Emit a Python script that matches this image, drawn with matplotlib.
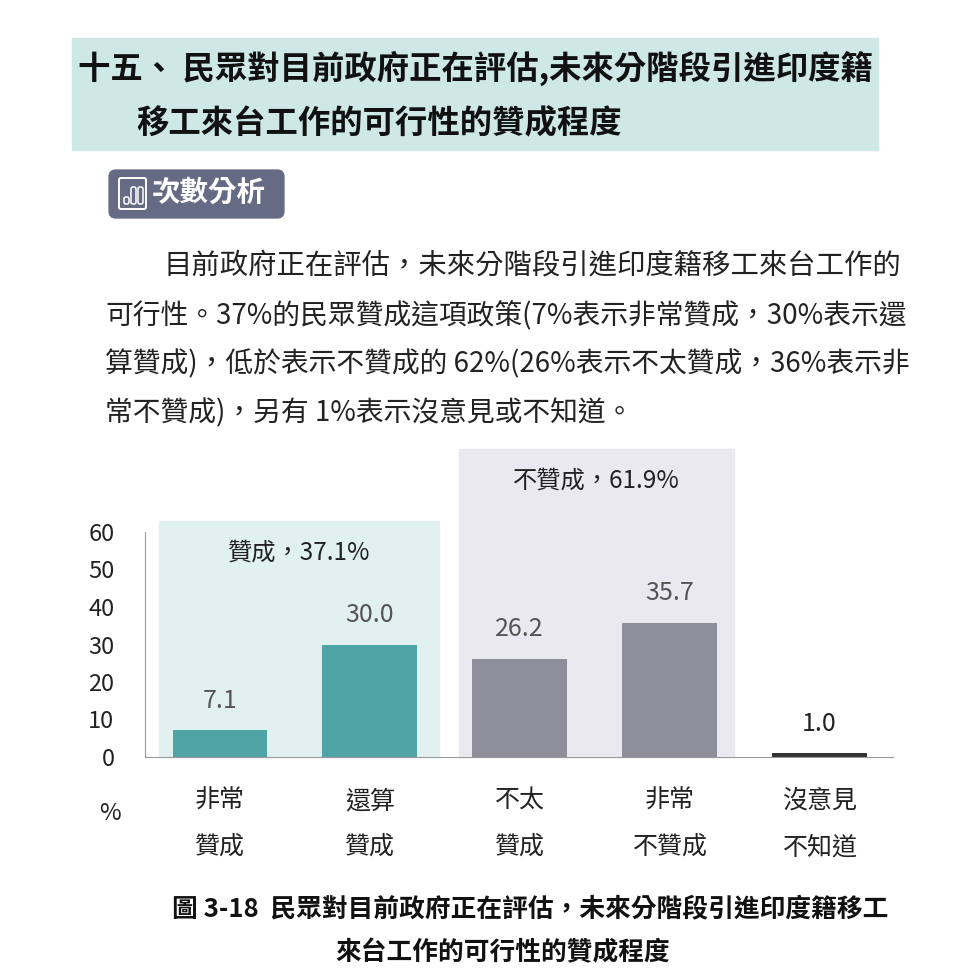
import matplotlib
matplotlib.use('Agg')
import matplotlib.pyplot as plt
from matplotlib.patches import Rectangle, FancyBboxPatch

plt.rcParams['font.family'] = ['Noto Sans CJK TC', 'DejaVu Sans']

# data
categories = [['非常', '贊成'], ['還算', '贊成'], ['不太', '贊成'], ['非常', '不贊成'], ['沒意見', '不知道']]
values = [7.1, 30.0, 26.2, 35.7, 1.0]
value_labels = ['7.1', '30.0', '26.2', '35.7', '1.0']
yticks = [0, 10, 20, 30, 40, 50, 60]
group_agree = '贊成，37.1%'
group_disagree = '不贊成，61.9%'

title_lines = ['十五、 民眾對目前政府正在評估,未來分階段引進印度籍', '移工來台工作的可行性的贊成程度']
para_lines = ['目前政府正在評估，未來分階段引進印度籍移工來台工作的',
              '可行性。37%的民眾贊成這項政策(7%表示非常贊成，30%表示還',
              '算贊成)，低於表示不贊成的 62%(26%表示不太贊成，36%表示非',
              '常不贊成)，另有 1%表示沒意見或不知道。']
caption_lines = ['圖 3-18  民眾對目前政府正在評估，未來分階段引進印度籍移工', '來台工作的可行性的贊成程度']

W, H = 960, 976
fig = plt.figure(figsize=(W / 100, H / 100), dpi=100)

def fx(x):
    return x / W

def fy(y):
    return (H - y) / H

# header box
fig.patches.append(Rectangle((fx(72), fy(150)), fx(878) - fx(72), fy(38) - fy(150),
                             transform=fig.transFigure, color='#cde8e5', zorder=0))
fig.text(fx(78), fy(68), title_lines[0], fontsize=23.3, fontweight='bold', va='center', ha='left', color='#111111')
fig.text(fx(136), fy(124), title_lines[1], fontsize=23.3, fontweight='bold', va='center', ha='left', color='#111111')

# button
fig.patches.append(FancyBboxPatch((fx(111), fy(216)), fx(282) - fx(111), fy(172) - fy(216),
                                  boxstyle='round,pad=0.002,rounding_size=0.007',
                                  transform=fig.transFigure, color='#656b85', zorder=1))
fig.patches.append(FancyBboxPatch((fx(119), fy(209)), fx(146) - fx(119), fy(178) - fy(209),
                                  boxstyle='round,pad=0,rounding_size=0.002',
                                  transform=fig.transFigure, fill=False, ec='white', lw=1.4, zorder=2))
for x0, y0 in [(124, 197), (131, 187), (138, 187)]:
    fig.patches.append(FancyBboxPatch((fx(x0), fy(204)), fx(5), fy(y0) - fy(204),
                                      boxstyle='round,pad=0,rounding_size=0.002',
                                      transform=fig.transFigure, fill=False, ec='white', lw=1.1, zorder=2))
fig.text(fx(152), fy(193), '次數分析', fontsize=20.5, color='white', va='center', ha='left', fontweight='bold')

# paragraph
fig.text(fx(163), fy(266), para_lines[0], fontsize=20.4, va='center', ha='left', color='#222222')
for i, line in enumerate(para_lines[1:]):
    fig.text(fx(105), fy(315 + 49 * i), line, fontsize=20, va='center', ha='left', color='#222222')

# chart
ax = fig.add_axes([fx(145), fy(757), fx(893) - fx(145), fy(532) - fy(757)])
x = list(range(len(values)))
colors = ['#4fa5a5', '#4fa5a5', '#8f8e9b', '#8f8e9b', '#333333']
ax.add_patch(Rectangle((-0.407, 0), 1.867, 62.9, color='#e1f1ef', clip_on=False, zorder=0))
ax.add_patch(Rectangle((1.593, 0), 1.834, 82.1, color='#e9e9ef', clip_on=False, zorder=0))
ax.bar(x, values, width=0.633, color=colors, zorder=2)
for xi, v, lab in zip(x, values, value_labels):
    c = '#222222' if xi == 4 else '#555555'
    ax.annotate(lab, (xi, v), xytext=(0, 12), textcoords='offset points',
                ha='center', va='bottom', fontsize=18, color=c)
ax.text(0.53, 54.6, group_agree, ha='center', va='center', fontsize=17.5, color='#222222')
ax.text(2.51, 73.8, group_disagree, ha='center', va='center', fontsize=17.5, color='#222222')

ax.set_xlim(-0.5, 4.49)
ax.set_ylim(0, 60)
ax.set_yticks(yticks)
ax.set_yticklabels([str(t) for t in yticks], fontsize=17, color='#222222')
ax.tick_params(axis='y', length=0, pad=22)
ax.set_xticks([])
for s in ['top', 'right']:
    ax.spines[s].set_visible(False)
ax.spines['left'].set_color('#999999')
ax.spines['bottom'].set_color('#999999')
ax.patch.set_alpha(0)

# category labels
for xi, cat in zip(x, categories):
    xp = 220 + 150 * xi
    fig.text(fx(xp), fy(801), cat[0], fontsize=18, ha='center', va='center', color='#222222')
    fig.text(fx(xp), fy(847), cat[1], fontsize=18, ha='center', va='center', color='#222222')
fig.text(fx(110), fy(813), '%', fontsize=17, ha='center', va='center', color='#222222')

# caption
fig.text(fx(530), fy(910), caption_lines[0], fontsize=18.5, fontweight='bold', ha='center', va='center', color='#111111')
fig.text(fx(503), fy(953), caption_lines[1], fontsize=18.5, fontweight='bold', ha='center', va='center', color='#111111')

plt.savefig('out.png', dpi=100)
